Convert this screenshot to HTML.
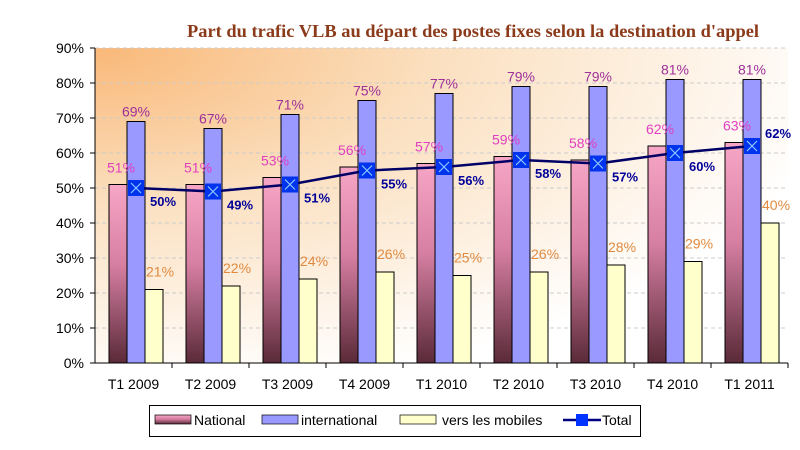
<!DOCTYPE html>
<html><head><meta charset="utf-8"><style>
body{margin:0;background:#fff;width:800px;height:450px;overflow:hidden}
svg{display:block;font-family:"Liberation Sans",sans-serif}
</style></head><body>
<svg id="c" width="800" height="450" xmlns="http://www.w3.org/2000/svg">
<defs>
<radialGradient id="bg" cx="0" cy="0" r="1.1" gradientUnits="objectBoundingBox">
<stop offset="0" stop-color="#f9b878"/><stop offset="0.45" stop-color="#fbe0c0"/><stop offset="1" stop-color="#ffffff"/>
</radialGradient>
<linearGradient id="nat" x1="0" y1="0" x2="0" y2="1">
<stop offset="0" stop-color="#f7a6c6"/><stop offset="0.45" stop-color="#d67fa2"/><stop offset="1" stop-color="#5a2a38"/>
</linearGradient>
</defs>
<rect x="95" y="48" width="693" height="315" fill="url(#bg)"/>
<text x="473" y="37" text-anchor="middle" font-family="Liberation Serif,serif" font-weight="bold" font-size="18" textLength="572" lengthAdjust="spacingAndGlyphs" fill="#8b3a1a">Part du trafic VLB au départ des postes fixes selon la destination d'appel</text>
<g id="g"></g>
<rect x="149.5" y="405.5" width="491" height="31" fill="#fff" stroke="#000"/>
<rect x="155" y="415" width="36" height="9" fill="url(#nat)" stroke="#000" stroke-width="0.7"/>
<text x="194" y="425" font-size="14">National</text>
<rect x="262" y="415" width="36" height="9" fill="#9999ff" stroke="#000" stroke-width="0.7"/>
<text x="301" y="425" font-size="14">international</text>
<rect x="400" y="415" width="36" height="9" fill="#ffffcc" stroke="#000" stroke-width="0.7"/>
<text x="442" y="425" font-size="14">vers les mobiles</text>
<line x1="563" y1="420" x2="601" y2="420" stroke="#000080" stroke-width="2.5"/>
<rect x="576" y="414" width="12" height="12" fill="#0033ff"/>
<text x="602" y="425" font-size="14">Total</text>
</svg>
<script>
var nat=[51,51,53,56,57,59,58,62,63],intl=[69,67,71,75,77,79,79,81,81],mob=[21,22,24,26,25,26,28,29,40],tot=[50,49,51,55,56,58,57,60,62];
var cats=["T1 2009","T2 2009","T3 2009","T4 2009","T1 2010","T2 2010","T3 2010","T4 2010","T1 2011"];
var s="",X0=95,W=77,B=363,k=3.5;
for(var i=1;i<=9;i++){var y=B-i*35;s+='<line x1="95" y1="'+y+'" x2="788" y2="'+y+'" stroke="#ccc" stroke-dasharray="4,3"/>';}
for(var i=0;i<=9;i++){var y=B-i*35;s+='<line x1="90" y1="'+y+'" x2="95" y2="'+y+'" stroke="#000"/><text x="84" y="'+(y+5)+'" text-anchor="end" font-size="14">'+(i*10)+'%</text>';}
for(var i=0;i<9;i++){var x=X0+i*W;
s+='<rect x="'+(x+14)+'" y="'+(B-nat[i]*k)+'" width="18" height="'+nat[i]*k+'" fill="url(#nat)" stroke="#000"/>';
s+='<rect x="'+(x+32)+'" y="'+(B-intl[i]*k)+'" width="18" height="'+intl[i]*k+'" fill="#9999ff" stroke="#000"/>';
s+='<rect x="'+(x+50)+'" y="'+(B-mob[i]*k)+'" width="18" height="'+mob[i]*k+'" fill="#ffffcc" stroke="#000"/>';
s+='<text x="'+(x+12)+'" y="'+(B-nat[i]*k-12)+'" font-size="14" fill="#e040c0">'+nat[i]+'%</text>';
s+='<text x="'+(x+41)+'" y="'+(B-intl[i]*k-5)+'" text-anchor="middle" font-size="14" fill="#a0309a">'+intl[i]+'%</text>';
s+='<text x="'+(x+51)+'" y="'+(B-mob[i]*k-13)+'" font-size="14" fill="#e08a40">'+mob[i]+'%</text>';
s+='<line x1="'+(x+W)+'" y1="363" x2="'+(x+W)+'" y2="368" stroke="#000"/>';
s+='<text x="'+(x+38.5)+'" y="389" text-anchor="middle" font-size="14">'+cats[i]+'</text>';
}
var p="";for(var i=0;i<9;i++){p+=(i?"L":"M")+(X0+i*W+41)+","+(B-tot[i]*k);}
s+='<path d="'+p+'" fill="none" stroke="#000066" stroke-width="2.5"/>';
for(var i=0;i<9;i++){var cx=X0+i*W+41,cy=B-tot[i]*k;
s+='<rect x="'+(cx-8)+'" y="'+(cy-8)+'" width="16" height="16" fill="#0033ee"/><path d="M'+(cx-5)+','+(cy-5)+'L'+(cx+5)+','+(cy+5)+'M'+(cx+5)+','+(cy-5)+'L'+(cx-5)+','+(cy+5)+'" stroke="#8ec8ff" stroke-width="1.2"/>';
s+='<text x="'+(cx+(i==8?13:14))+'" y="'+(cy+(i==8?-8:18))+'" font-size="13" font-weight="bold" fill="#000099">'+tot[i]+'%</text>';}
s+='<line x1="95" y1="48" x2="95" y2="363" stroke="#000"/><line x1="95" y1="363" x2="788" y2="363" stroke="#000"/>';
document.getElementById("g").innerHTML=s;
</script>
</body></html>
